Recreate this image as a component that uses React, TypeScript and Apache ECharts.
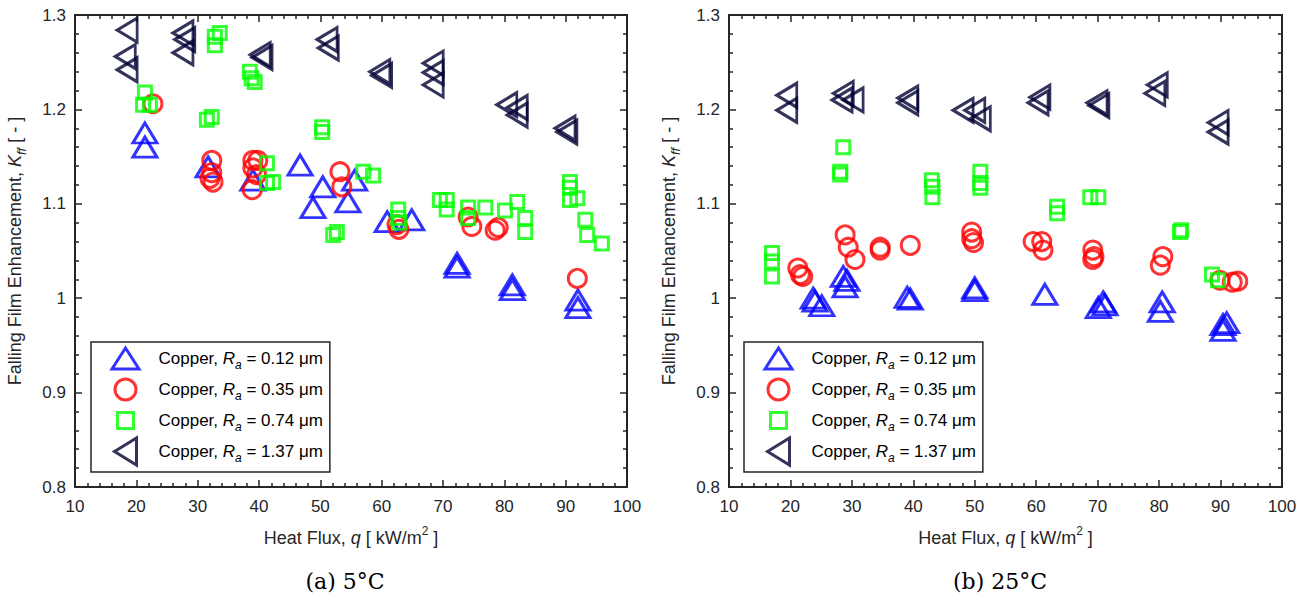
import React, { useEffect, useRef } from "react";
import * as echarts from "echarts";

// ---------- data (heat flux q [kW/m2], Kff [-]) ----------
const seriesNames = [
  "Copper, Ra = 0.12 μm",
  "Copper, Ra = 0.35 μm",
  "Copper, Ra = 0.74 μm",
  "Copper, Ra = 1.37 μm",
];
const xTickMin = 10;
const xTickMax = 100;
const yTickMin = 0.8;
const yTickMax = 1.3;
const captions = ["(a) 5°C", "(b) 25°C"];

// (a) 5°C
const a_Ra012: [number, number][] = [
  [21.4, 1.175], [21.4, 1.16], [31.7, 1.139], [39.0, 1.125], [46.7, 1.141],
  [48.8, 1.096], [50.4, 1.118], [54.5, 1.102], [55.6, 1.125], [60.9, 1.081],
  [64.9, 1.083], [72.3, 1.037], [72.3, 1.033], [81.3, 1.014], [81.3, 1.009],
  [92.0, 0.998], [92.0, 0.99],
];
const a_Ra035: [number, number][] = [
  [22.7, 1.206], [32.3, 1.146], [32.3, 1.133], [32.5, 1.123], [32.0, 1.127],
  [39.0, 1.146], [39.8, 1.146], [39.0, 1.138], [39.6, 1.131], [38.9, 1.115],
  [53.2, 1.134], [53.5, 1.118], [62.5, 1.078], [62.8, 1.073], [74.1, 1.086],
  [74.7, 1.076], [78.5, 1.072], [79.0, 1.075], [91.9, 1.021],
];
const a_Ra074: [number, number][] = [
  [21.4, 1.218], [21.1, 1.205], [22.2, 1.205], [32.8, 1.277], [33.6, 1.281],
  [32.8, 1.268], [31.5, 1.189], [32.3, 1.192], [38.5, 1.24], [38.8, 1.233],
  [39.3, 1.229], [50.3, 1.181], [50.3, 1.176], [41.3, 1.143], [42.3, 1.123],
  [41.3, 1.122], [52.1, 1.067], [52.7, 1.07], [57.0, 1.134], [58.6, 1.13],
  [62.7, 1.094], [62.7, 1.085], [62.9, 1.08], [69.5, 1.104], [70.6, 1.104],
  [70.6, 1.094], [74.1, 1.096], [74.1, 1.085], [76.9, 1.096], [80.1, 1.093],
  [82.1, 1.102], [83.4, 1.085], [83.4, 1.07], [90.7, 1.123], [90.7, 1.117],
  [91.9, 1.106], [90.7, 1.104], [93.2, 1.083], [93.5, 1.067], [95.9, 1.058],
];
const a_Ra137: [number, number][] = [
  [18.5, 1.284], [18.2, 1.256], [18.5, 1.242], [27.6, 1.281], [27.9, 1.274],
  [27.6, 1.26], [40.2, 1.258], [40.5, 1.255], [51.1, 1.274], [51.3, 1.265],
  [59.7, 1.24], [60.0, 1.236], [68.4, 1.249], [68.4, 1.239], [68.4, 1.226],
  [80.4, 1.205], [82.1, 1.202], [82.1, 1.194], [89.9, 1.18], [90.2, 1.176],
];

// (b) 25°C
const b_Ra012: [number, number][] = [
  [23.7, 1.0], [24.0, 0.997], [25.1, 0.992], [28.6, 1.023], [29.2, 1.019],
  [28.9, 1.012], [39.0, 1.001], [39.5, 0.999], [50.0, 1.011], [50.0, 1.008],
  [61.4, 1.004], [70.9, 0.996], [70.1, 0.99], [71.2, 0.993], [80.5, 0.996],
  [80.2, 0.986], [90.4, 0.972], [91.0, 0.974], [90.4, 0.966],
];
const b_Ra035: [number, number][] = [
  [21.2, 1.032], [21.6, 1.025], [22.0, 1.023], [28.9, 1.067], [29.4, 1.054],
  [30.5, 1.041], [34.6, 1.054], [34.6, 1.051], [39.5, 1.056], [49.5, 1.07],
  [49.5, 1.063], [49.8, 1.059], [59.5, 1.06], [60.9, 1.06], [61.1, 1.051],
  [69.2, 1.051], [69.4, 1.044], [69.2, 1.041], [80.6, 1.044], [80.2, 1.035],
  [89.9, 1.019], [91.9, 1.017], [92.8, 1.018],
];
const b_Ra074: [number, number][] = [
  [17.0, 1.048], [17.0, 1.039], [17.0, 1.023], [28.6, 1.16], [28.1, 1.134],
  [28.1, 1.131], [43.0, 1.125], [43.1, 1.118], [43.1, 1.107], [50.9, 1.134],
  [50.9, 1.122], [50.9, 1.117], [63.4, 1.097], [63.4, 1.09], [68.8, 1.107],
  [70.1, 1.107], [83.4, 1.07], [83.6, 1.072], [88.6, 1.025], [89.6, 1.019],
];
const b_Ra137: [number, number][] = [
  [19.4, 1.215], [19.4, 1.199], [28.6, 1.217], [28.4, 1.21], [30.2, 1.21],
  [39.1, 1.212], [39.1, 1.207], [48.1, 1.199], [50.0, 1.199], [50.9, 1.19],
  [60.6, 1.213], [60.3, 1.207], [69.9, 1.207], [70.2, 1.204], [79.7, 1.226],
  [79.3, 1.217], [89.6, 1.186], [89.6, 1.176],
];

// ---------- styling ----------
const panels = [
  [a_Ra012, a_Ra035, a_Ra074, a_Ra137],
  [b_Ra012, b_Ra035, b_Ra074, b_Ra137],
];
const colors = ["#0000ff", "#ff0000", "#00ff00", "#000033"];
const symbols = ["triangle", "circle", "rect", "path://M0,13 L22,0 L22,26 Z"];
const symbolSizes: any[] = [[24, 20], 18, 13, [20, 24]];
const legendIcons = [
  "path://M0,0 M14,3.5 L27.5,24.5 L0.5,24.5 Z M28,28",
  "path://M0,0 M24.5,14 A10.5,10.5 0 1 1 3.5,14 A10.5,10.5 0 1 1 24.5,14 Z M28,28",
  "path://M0,0 M6,6 L22,6 L22,22 L6,22 Z M28,28",
  "path://M0,0 M3,14 L25,0.5 L25,27.5 Z M28,28",
];
const axisColor = "#262626";
const font = '"Liberation Sans", Arial, Helvetica, sans-serif';
const gridRects = [
  { left: 75, top: 15, width: 552, height: 472 },
  { left: 729, top: 15, width: 553, height: 472 },
];
const legendLefts = [91, 744];
const captionX = [345, 1000];

export default function App() {
  const ref = useRef<HTMLDivElement>(null);

  useEffect(() => {
    if (!ref.current) return;
    const chart = echarts.init(ref.current, null, { renderer: "svg" });

    const axisCommon = {
      type: "value",
      splitLine: { show: false },
      axisLine: { show: true, onZero: false, lineStyle: { color: axisColor, width: 2 } },
      axisTick: { show: true, inside: true, length: 7, lineStyle: { color: axisColor, width: 1.5 } },
      minorTick: { show: true, splitNumber: 5, length: 4, lineStyle: { color: axisColor, width: 1.5 } },
      minorSplitLine: { show: false },
    };
    const tickLabel = { fontSize: 17, color: axisColor, fontFamily: font };
    const nameStyle = (size: number) => ({
      fontSize: size,
      color: axisColor,
      fontFamily: font,
      lineHeight: 26,
      rich: {
        i: { fontSize: size, fontStyle: "italic", color: axisColor, fontFamily: font, lineHeight: 26 },
        sub: { fontSize: 13, fontStyle: "italic", color: axisColor, fontFamily: font, verticalAlign: "bottom", lineHeight: 13 },
        sup: { fontSize: 12, color: axisColor, fontFamily: font, verticalAlign: "top", lineHeight: 16 },
      },
    });

    const xAxis: any[] = [];
    const yAxis: any[] = [];
    gridRects.forEach((_, gi) => {
      xAxis.push({
        ...axisCommon, gridIndex: gi, min: xTickMin, max: xTickMax, interval: 10, position: "bottom",
        axisLabel: { ...tickLabel, margin: 11 },
        name: "Heat Flux, {i|q} [ kW/m{sup|2} ]", nameLocation: "middle", nameGap: 38,
        nameTextStyle: nameStyle(18),
      });
      xAxis.push({
        ...axisCommon, gridIndex: gi, min: xTickMin, max: xTickMax, interval: 10, position: "top",
        axisLabel: { show: false },
      });
      yAxis.push({
        ...axisCommon, gridIndex: gi, min: yTickMin, max: yTickMax, interval: 0.1, position: "left",
        axisLabel: { ...tickLabel, margin: 9, formatter: (v: number) => String(Math.round(v * 10) / 10) },
        name: "Falling Film Enhancement, {i|K}{sub|ff} [ - ]",
        nameLocation: "middle", nameGap: 47,
        nameTextStyle: nameStyle(18),
      });
      yAxis.push({
        ...axisCommon, gridIndex: gi, min: yTickMin, max: yTickMax, interval: 0.1, position: "right",
        axisLabel: { show: false },
      });
    });

    const series: any[] = [];
    panels.forEach((sets, gi) => {
      sets.forEach((data, si) => {
        series.push({
          type: "scatter",
          name: seriesNames[si],
          xAxisIndex: gi * 2,
          yAxisIndex: gi * 2,
          data,
          symbol: symbols[si],
          symbolSize: symbolSizes[si],
          itemStyle: { color: "rgba(0,0,0,0)", borderColor: colors[si], borderWidth: 3 },
          emphasis: { disabled: true },
          z: 2 + si,
        });
      });
    });

    const legendText = {
      fontSize: 17,
      fontFamily: font,
      color: "#000",
      lineHeight: 24,
      rich: {
        sp: { width: 14, fontSize: 17, lineHeight: 24 },
        i: { fontSize: 17, fontStyle: "italic", fontFamily: font, color: "#000", lineHeight: 24 },
        sub: { fontSize: 12, fontStyle: "italic", fontFamily: font, color: "#000", verticalAlign: "bottom", lineHeight: 12 },
      },
    };
    const legend = legendLefts.map((left) => ({
      orient: "vertical",
      left,
      top: 342,
      itemWidth: 28,
      itemHeight: 28,
      itemGap: 0,
      padding: [1, 7, 5, 19],
      backgroundColor: "#ffffff",
      borderColor: axisColor,
      borderWidth: 1.5,
      selectedMode: false,
      itemStyle: { borderWidth: 3 },
      textStyle: legendText,
      formatter: (name: string) => {
        const v = name.split("= ")[1];
        return "{sp| }Copper, {i|R}{sub|a} = " + v;
      },
      data: seriesNames.map((n, i) => ({ name: n, icon: legendIcons[i] })),
      z: 10,
    }));

    chart.setOption({
      animation: false,
      backgroundColor: "#ffffff",
      grid: gridRects,
      xAxis,
      yAxis,
      legend,
      series,
      graphic: captions.map((t, i) => ({
        type: "text",
        x: captionX[i],
        y: 581,
        style: {
          text: t,
          font: '22px "DejaVu Serif", "Liberation Serif", serif',
          fill: "#000",
          textAlign: "center",
          textVerticalAlign: "middle",
        },
      })),
    });

    return () => chart.dispose();
  }, []);

  return (
    <div
      ref={ref}
      style={{ position: "fixed", left: 0, top: 0, width: 1309, height: 596 }}
    />
  );
}
